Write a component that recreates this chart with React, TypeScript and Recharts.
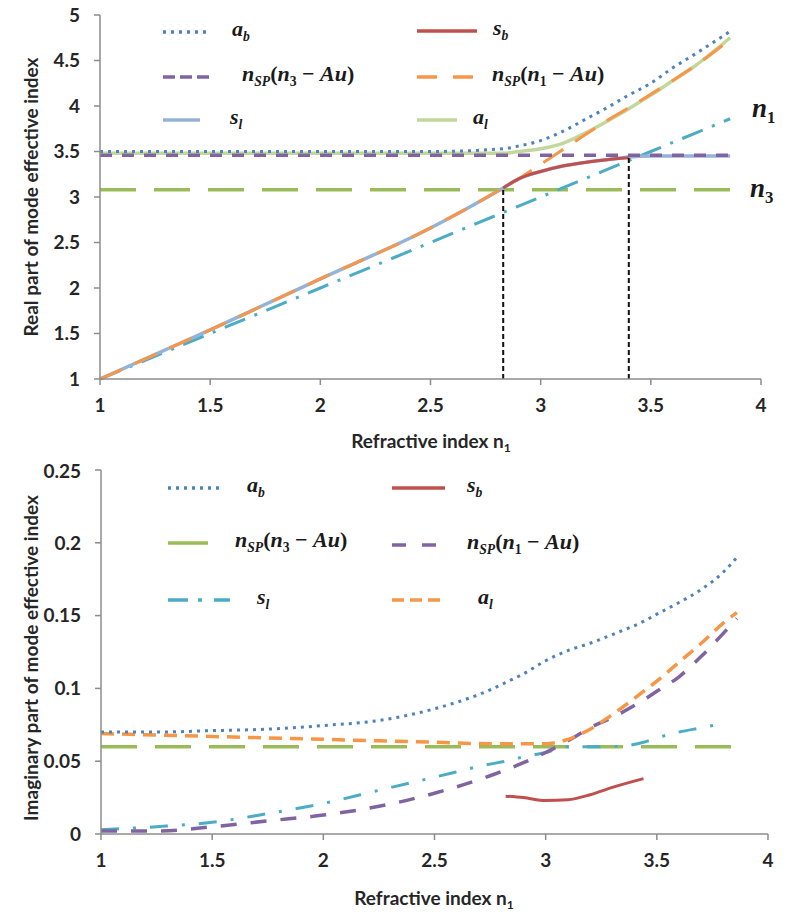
import React from 'react';
import { LineChart, Line, XAxis, YAxis, ReferenceLine } from 'recharts';

// ---- shared axis ticks ----
const X_TICKS = [1, 1.5, 2, 2.5, 3, 3.5, 4];
const Y_TICKS_TOP = [1, 1.5, 2, 2.5, 3, 3.5, 4, 4.5, 5];
const Y_TICKS_BOT = [0, 0.05, 0.1, 0.15, 0.2, 0.25];

// ---- top panel: real part ----
const N_TOP = [1, 1.5, 2, 2.5, 2.83, 2.9, 3.0, 3.1, 3.2, 3.3, 3.4, 3.5, 3.6, 3.7, 3.86];
const AB_TOP = [3.5, 3.5, 3.5, 3.5, 3.53, 3.56, 3.62, 3.72, 3.85, 3.98, 4.12, 4.25, 4.42, 4.57, 4.82];
const SB_TOP = [null, null, null, null, 3.1, 3.2, 3.28, 3.34, 3.38, 3.41, 3.43, null, null, null, null];
const NSP3_TOP = [3.46, 3.46, 3.46, 3.46, 3.46, 3.46, 3.46, 3.46, 3.46, 3.46, 3.46, 3.46, 3.46, 3.46, 3.46];
const NSP1_TOP = [1.0, 1.54, 2.1, 2.66, 3.1, 3.2, 3.36, 3.52, 3.68, 3.84, 3.98, 4.13, 4.28, 4.44, 4.73];
const SL_TOP = [1.0, 1.54, 2.1, 2.66, 3.1, 3.2, 3.28, 3.34, 3.38, 3.41, 3.44, 3.45, 3.45, 3.45, 3.45];
const AL_TOP = [3.48, 3.48, 3.48, 3.48, 3.48, 3.5, 3.53, 3.59, 3.7, 3.83, 3.97, 4.12, 4.28, 4.44, 4.75];
const N1_TOP = [1, 1.5, 2, 2.5, 2.83, 2.9, 3.0, 3.1, 3.2, 3.3, 3.4, 3.5, 3.6, 3.7, 3.86];
const N3_TOP = [3.08, 3.08, 3.08, 3.08, 3.08, 3.08, 3.08, 3.08, 3.08, 3.08, 3.08, 3.08, 3.08, 3.08, 3.08];

// cut-off markers (vertical dashed lines)
const MARK_X = [2.83, 3.4];
const MARK_Y = [3.1, 3.43];

// ---- bottom panel: imaginary part ----
const N_BOT = [1, 1.25, 1.5, 1.75, 2, 2.25, 2.5, 2.75, 2.82, 2.9, 3.0, 3.1, 3.2, 3.3, 3.44, 3.5, 3.6, 3.7, 3.8, 3.86];
const AB_BOT = [0.07, 0.07, 0.071, 0.072, 0.0745, 0.078, 0.086, 0.099, 0.104, 0.11, 0.119, 0.126, 0.131, 0.137, 0.146, 0.151, 0.159, 0.168, 0.18, 0.19];
const SB_BOT = [null, null, null, null, null, null, null, null, 0.026, 0.025, 0.023, 0.0235, 0.027, 0.032, 0.038, null, null, null, null, null];
const NSP3_BOT = [0.06, 0.06, 0.06, 0.06, 0.06, 0.06, 0.06, 0.06, 0.06, 0.06, 0.06, 0.06, 0.06, 0.06, 0.06, 0.06, 0.06, 0.06, 0.06, 0.06];
const NSP1_BOT = [0.002, 0.002, 0.005, 0.009, 0.013, 0.019, 0.028, 0.04, 0.044, 0.049, 0.056, 0.064, 0.073, 0.08, 0.092, 0.098, 0.108, 0.122, 0.138, 0.148];
const SL_BOT = [0.003, 0.005, 0.008, 0.014, 0.021, 0.03, 0.039, 0.048, 0.05, 0.053, 0.056, 0.06, 0.06, 0.06, 0.063, 0.066, 0.07, 0.073, 0.076, null];
const AL_BOT = [0.069, 0.068, 0.067, 0.066, 0.065, 0.064, 0.063, 0.062, 0.062, 0.062, 0.062, 0.065, 0.072, 0.082, 0.098, 0.105, 0.118, 0.131, 0.145, 0.152];

const topData = N_TOP.map((n, i) => ({
  n, ab: AB_TOP[i], sb: SB_TOP[i], nsp3: NSP3_TOP[i], nsp1: NSP1_TOP[i],
  sl: SL_TOP[i], al: AL_TOP[i], n1: N1_TOP[i], n3: N3_TOP[i],
}));

const botData = N_BOT.map((n, i) => ({
  n, ab: AB_BOT[i], sb: SB_BOT[i], nsp3: NSP3_BOT[i], nsp1: NSP1_BOT[i],
  sl: SL_BOT[i], al: AL_BOT[i],
}));

const BLUE = '#4f81bd';
const RED = '#c0504d';
const PURPLE = '#8064a2';
const ORANGE = '#f79646';
const LBLUE = '#95b3d7';
const LGREEN = '#c3d69b';
const TEAL = '#4bacc6';
const GREEN = '#9bbb59';

const DOT = '3 5';
const DASHDOT = '22 10 3 10';

const axisProps = {
  axisLine: { stroke: '#8c8c8c', strokeWidth: 1.5 },
  tickLine: { stroke: '#8c8c8c', strokeWidth: 1.5 },
  tickSize: 6,
  tickMargin: 14,
  tick: { fontSize: 19, fontWeight: 700, fill: '#262626', fontFamily: 'Lato' },
};

const mathFont: React.CSSProperties = {
  fontFamily: '"Liberation Serif", serif',
  fontWeight: 700,
  fontSize: 22,
  color: '#1a1a1a',
  whiteSpace: 'nowrap',
};

const I = ({ c }: { c: string }) => <i>{c}</i>;
const Sub = ({ c, up }: { c: string; up?: boolean }) => (
  <sub style={{ fontSize: '0.62em', fontStyle: up ? 'normal' : 'italic' }}>{c}</sub>
);

const lbl = {
  ab: <><I c="a" /><Sub c="b" /></>,
  sb: <><I c="s" /><Sub c="b" /></>,
  sl: <><I c="s" /><Sub c="l" /></>,
  al: <><I c="a" /><Sub c="l" /></>,
  nsp3: <><I c="n" /><Sub c="SP" />(<I c="n" /><Sub c="3" up /> − <I c="Au" />)</>,
  nsp1: <><I c="n" /><Sub c="SP" />(<I c="n" /><Sub c="1" up /> − <I c="Au" />)</>,
};

type LegendItem = { x: number; w: number; y: number; tx: number; color: string; dash?: string; label: React.ReactNode };

const LEGEND_TOP: LegendItem[] = [
  { x: 163, w: 47, y: 32, tx: 232, color: BLUE, dash: DOT, label: lbl.ab },
  { x: 417, w: 60, y: 31, tx: 493, color: RED, label: lbl.sb },
  { x: 163, w: 50, y: 77, tx: 242, color: PURPLE, dash: '12 5', label: lbl.nsp3 },
  { x: 417, w: 60, y: 77, tx: 492, color: ORANGE, dash: '20 16', label: lbl.nsp1 },
  { x: 163, w: 37, y: 120, tx: 230, color: LBLUE, label: lbl.sl },
  { x: 417, w: 40, y: 120, tx: 473, color: LGREEN, label: lbl.al },
];

const LEGEND_BOT: LegendItem[] = [
  { x: 168, w: 54, y: 488, tx: 247, color: BLUE, dash: DOT, label: lbl.ab },
  { x: 392, w: 53, y: 488, tx: 467, color: RED, label: lbl.sb },
  { x: 168, w: 40, y: 543, tx: 235, color: GREEN, label: lbl.nsp3 },
  { x: 392, w: 52, y: 545, tx: 467, color: PURPLE, dash: '14 16', label: lbl.nsp1 },
  { x: 168, w: 62, y: 600, tx: 257, color: TEAL, dash: '20 10 4 12', label: lbl.sl },
  { x: 392, w: 52, y: 600, tx: 478, color: ORANGE, dash: '12 6', label: lbl.al },
];

const Legend = ({ items }: { items: LegendItem[] }) => (
  <>
    {items.map((it, i) => (
      <React.Fragment key={i}>
        <svg style={{ position: 'absolute', left: it.x, top: it.y - 5 }} width={it.w} height={10}>
          <line x1={0} y1={5} x2={it.w} y2={5} stroke={it.color} strokeWidth={3.5} strokeDasharray={it.dash} />
        </svg>
        <div style={{ ...mathFont, position: 'absolute', left: it.tx, top: it.y, transform: 'translateY(-55%)' }}>{it.label}</div>
      </React.Fragment>
    ))}
  </>
);

const titleFont: React.CSSProperties = {
  position: 'absolute',
  fontFamily: 'Lato, sans-serif',
  fontWeight: 700,
  fontSize: 19,
  color: '#262626',
  whiteSpace: 'nowrap',
  transform: 'translate(-50%, -50%)',
};

const XTitle = ({ x, y }: { x: number; y: number }) => (
  <div style={{ ...titleFont, left: x, top: y }}>
    Refractive index n<sub style={{ fontSize: 12 }}>1</sub>
  </div>
);

const YTitle = ({ x, y, text }: { x: number; y: number; text: string }) => (
  <div style={{ ...titleFont, left: x, top: y, transform: 'translate(-50%, -50%) rotate(-90deg)' }}>{text}</div>
);

const App: React.FC = () => {
  return (
    <div style={{ position: 'absolute', left: 0, top: 0, width: 787, height: 921, background: '#fff', overflow: 'hidden' }}>
      {/* Real part */}
      <div style={{ position: 'absolute', left: 0, top: 0 }}>
        <LineChart width={787} height={460} data={topData} margin={{ top: 15, right: 26, left: 0, bottom: 0 }}>
          <XAxis dataKey="n" type="number" domain={[1, 4]} ticks={X_TICKS} height={81} {...axisProps} />
          <YAxis type="number" domain={[1, 5]} ticks={Y_TICKS_TOP} width={100} {...axisProps} />
          <Line dataKey="n3" stroke={GREEN} strokeWidth={3.5} strokeDasharray="36 18" dot={false} isAnimationActive={false} />
          <Line dataKey="n1" stroke={TEAL} strokeWidth={3} strokeDasharray={DASHDOT} dot={false} isAnimationActive={false} />
          <Line type="monotone" dataKey="al" stroke={LGREEN} strokeWidth={3.5} dot={false} isAnimationActive={false} />
          <Line type="monotone" dataKey="sl" stroke={LBLUE} strokeWidth={3.5} dot={false} isAnimationActive={false} />
          <Line type="monotone" dataKey="nsp1" stroke={ORANGE} strokeWidth={3} strokeDasharray="24 14" dot={false} isAnimationActive={false} />
          <Line dataKey="nsp3" stroke={PURPLE} strokeWidth={3.5} strokeDasharray="12 10" dot={false} isAnimationActive={false} />
          <Line type="monotone" dataKey="sb" stroke={RED} strokeWidth={3} dot={false} isAnimationActive={false} />
          <Line type="monotone" dataKey="ab" stroke={BLUE} strokeWidth={3} strokeDasharray={DOT} dot={false} isAnimationActive={false} />
          {MARK_X.map((mx, i) => (
            <ReferenceLine key={i} segment={[{ x: mx, y: 1 }, { x: mx, y: MARK_Y[i] }]} stroke="#111" strokeWidth={2} strokeDasharray="5 3" />
          ))}
        </LineChart>
      </div>

      {/* Imaginary part */}
      <div style={{ position: 'absolute', left: 0, top: 460 }}>
        <LineChart width={787} height={461} data={botData} margin={{ top: 10, right: 19, left: 0, bottom: 0 }}>
          <XAxis dataKey="n" type="number" domain={[1, 4]} ticks={X_TICKS} height={87} {...axisProps} />
          <YAxis type="number" domain={[0, 0.25]} ticks={Y_TICKS_BOT} width={101} {...axisProps} />
          <Line dataKey="nsp3" stroke={GREEN} strokeWidth={3.5} strokeDasharray="36 18" dot={false} isAnimationActive={false} />
          <Line type="monotone" dataKey="sl" stroke={TEAL} strokeWidth={3} strokeDasharray="18 14 3 14" dot={false} isAnimationActive={false} />
          <Line type="monotone" dataKey="nsp1" stroke={PURPLE} strokeWidth={3.5} strokeDasharray="16 14" dot={false} isAnimationActive={false} />
          <Line type="monotone" dataKey="al" stroke={ORANGE} strokeWidth={3.5} strokeDasharray="13 8" dot={false} isAnimationActive={false} />
          <Line type="monotone" dataKey="sb" stroke={RED} strokeWidth={3} dot={false} isAnimationActive={false} />
          <Line type="monotone" dataKey="ab" stroke={BLUE} strokeWidth={3} strokeDasharray={DOT} dot={false} isAnimationActive={false} />
        </LineChart>
      </div>

      <Legend items={LEGEND_TOP} />
      <Legend items={LEGEND_BOT} />

      {/* line end labels */}
      <div style={{ ...mathFont, fontSize: 27, position: 'absolute', left: 752, top: 112, transform: 'translateY(-55%)' }}>
        <I c="n" /><Sub c="1" up />
      </div>
      <div style={{ ...mathFont, fontSize: 27, position: 'absolute', left: 750, top: 192, transform: 'translateY(-55%)' }}>
        <I c="n" /><Sub c="3" up />
      </div>

      <XTitle x={431} y={442} />
      <XTitle x={434} y={899} />
      <YTitle x={30} y={197} text="Real part of mode effective index" />
      <YTitle x={30} y={658} text="Imaginary part of mode effective index" />
    </div>
  );
};

export default App;
